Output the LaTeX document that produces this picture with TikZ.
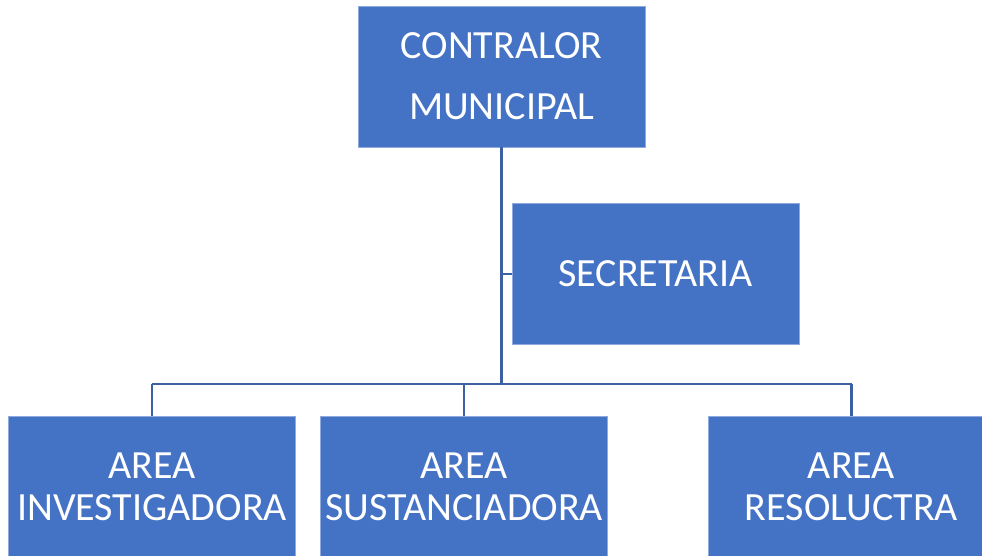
\documentclass[tikz,border=0pt]{standalone}
\usepackage{fontspec}
\setmainfont{Carlito}
\usetikzlibrary{calc}
\definecolor{caja}{RGB}{68,114,196}
\definecolor{borde}{RGB}{143,170,220}
\definecolor{linea}{RGB}{60,96,162}

\tikzset{
  puesto/.style={draw=borde,line width=0.8pt,fill=caja,text=white,
    minimum width=287,minimum height=141,inner sep=0pt,align=center,
    font=\fontsize{40}{42}\selectfont},
  enlace/.style={draw=linea,line width=2.5pt}
}

\begin{document}
\begin{tikzpicture}[x=1pt,y=-1pt]
                \useasboundingbox (0,0) rectangle (982,555);
                \node[puesto,font=\fontsize{40}{61}\selectfont] (contralor) at (501.5,76.5) {CONTRALOR\\MUNICIPAL};
                \node[puesto] (secretaria) at (655.5,274) {SECRETARIA};
                \node[puesto] (investigadora) at (152,486.5) {AREA\\INVESTIGADORA};
                \node[puesto] (sustanciadora) at (464,486.5) {AREA\\SUSTANCIADORA};
                \node[puesto] (resolutora) at (851.5,486.5) {AREA\\RESOLUCTRA};
                \coordinate (rama) at (501.5,384);
                \draw[enlace] (contralor.south) -- (contralor.south |- rama);
                \draw[enlace] (secretaria.west) -- (secretaria.west -| contralor.south);
                \draw[enlace] (investigadora.north |- rama) -- (resolutora.north |- rama);
                \draw[enlace] (investigadora.north) -- (investigadora.north |- rama);
                \draw[enlace] (sustanciadora.north) -- (sustanciadora.north |- rama);
                \draw[enlace] (resolutora.north) -- (resolutora.north |- rama);
            \end{tikzpicture}
\end{document}
